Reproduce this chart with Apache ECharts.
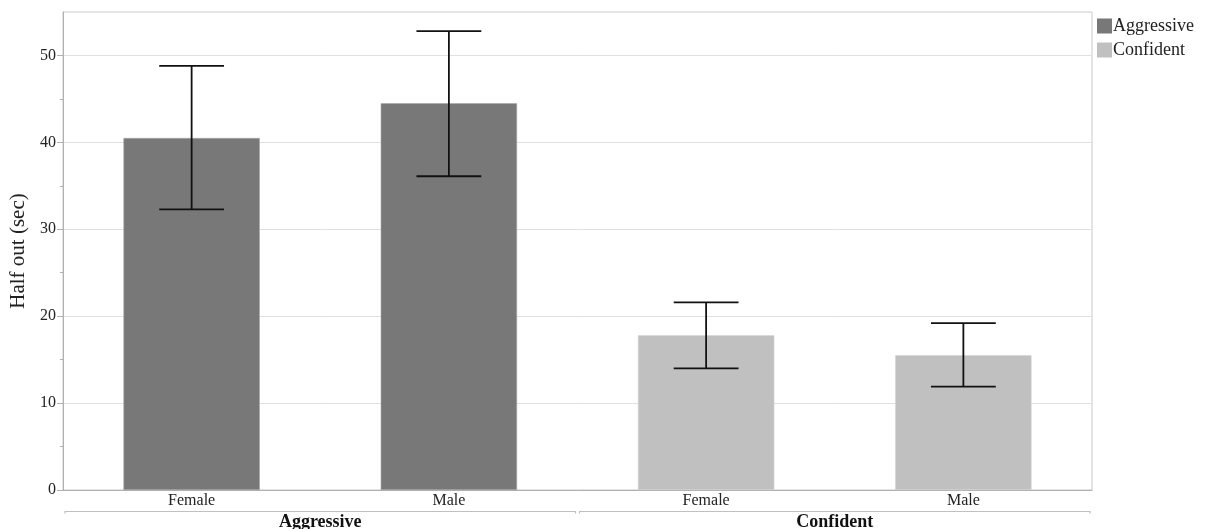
<!DOCTYPE html>
<html>
<head>
<meta charset="utf-8">
<script src="https://cdn.jsdelivr.net/npm/echarts@6/dist/echarts.min.js"></script>
<style>
  html, body { margin: 0; padding: 0; background: #fff; }
  #chart { width: 1205px; height: 529px; }
</style>
</head>
<body>
<div id="chart"></div>
<script>
// Half-out times by temperament and sex, mean with error bars
const categories = ['Female', 'Male', 'Female', 'Male'];
const groups = ['Aggressive', 'Confident'];
const aggressiveMeans = [40.5, 44.5, '-', '-'];
const confidentMeans = ['-', '-', 17.8, 15.5];
const errLow = [32.3, 36.1, 14.0, 11.9];
const errHigh = [48.8, 52.8, 21.6, 19.2];
const yTicks = [0, 10, 20, 30, 40, 50];

const FONT = '"Liberation Serif", "DejaVu Serif", serif';
const chart = echarts.init(document.getElementById('chart'));

const errData = categories.map((c, i) => [i, errLow[i], errHigh[i]]);

chart.setOption({
  animation: false,
  grid: {
    left: 63, right: 113, top: 12, bottom: 39,
    containLabel: false, outerBoundsMode: 'none',
    show: true, borderColor: '#c8c8c8', borderWidth: 1
  },
  legend: {
    orient: 'vertical', left: 1092, top: 12, padding: 5,
    itemWidth: 15, itemHeight: 15, itemGap: 6, icon: 'rect',
    itemStyle: { borderWidth: 0 },
    textStyle: { fontFamily: FONT, fontSize: 18, lineHeight: 15, color: '#222', padding: [0, 0, 0, -4] },
    data: groups
  },
  xAxis: [{
    type: 'category', data: categories, position: 'bottom',
    axisLine: { lineStyle: { color: '#b0b0b0' } },
    axisTick: { show: false },
    axisLabel: { fontFamily: FONT, fontSize: 16, color: '#222', margin: 3 },
    splitLine: { show: false }
  }, {
    type: 'category', data: groups, position: 'bottom', offset: 19,
    axisLine: { show: false }, axisTick: { show: false },
    axisLabel: { fontFamily: FONT, fontSize: 18, fontWeight: 'bold', color: '#111', margin: 4 },
    splitLine: { show: false }
  }],
  yAxis: {
    type: 'value', min: 0, max: 55, interval: 10,
    name: 'Half out (sec)', nameLocation: 'middle', nameGap: 33,
    nameTextStyle: { fontFamily: FONT, fontSize: 21, color: '#222' },
    axisLine: { show: true, lineStyle: { color: '#b0b0b0' } },
    axisTick: { show: true, length: 6, customValues: yTicks, lineStyle: { color: '#b0b0b0' } },
    minorTick: { show: true, splitNumber: 2, length: 3, lineStyle: { color: '#b0b0b0' } },
    axisLabel: {
      fontFamily: FONT, fontSize: 16, color: '#222', margin: 7,
      customValues: yTicks
    },
    splitLine: { lineStyle: { color: '#e0e0e0' } }
  },
  series: [{
    name: 'Aggressive', type: 'bar', stack: 'g', barWidth: '53%',
    itemStyle: { color: '#787878', borderColor: '#a8a8a8', borderWidth: 0.6 },
    data: aggressiveMeans
  }, {
    name: 'Confident', type: 'bar', stack: 'g', barWidth: '53%',
    itemStyle: { color: '#c0c0c0', borderColor: '#d4d4d4', borderWidth: 0.6 },
    data: confidentMeans
  }, {
    name: 'err', type: 'custom', z: 10,
    data: errData,
    encode: { x: 0, y: [1, 2] },
    renderItem: function (params, api) {
      const lo = api.coord([api.value(0), api.value(1)]);
      const hi = api.coord([api.value(0), api.value(2)]);
      const half = api.size([1, 0])[0] * 0.126;
      const st = { stroke: '#111', lineWidth: 1.8 };
      return {
        type: 'group',
        children: [
          { type: 'line', shape: { x1: lo[0], y1: lo[1], x2: hi[0], y2: hi[1] }, style: st },
          { type: 'line', shape: { x1: hi[0] - half, y1: hi[1], x2: hi[0] + half, y2: hi[1] }, style: st },
          { type: 'line', shape: { x1: lo[0] - half, y1: lo[1], x2: lo[0] + half, y2: lo[1] }, style: st }
        ]
      };
    }
  }]
});

// Separator lines under each group of category labels
function drawGroupLines() {
  const c0 = chart.convertToPixel({ xAxisIndex: 0 }, 0);
  const c1 = chart.convertToPixel({ xAxisIndex: 0 }, 1);
  const band = c1 - c0;
  const y0 = chart.convertToPixel({ yAxisIndex: 0 }, 0);
  const lineY = Math.round(y0 + 21) + 0.5;
  const elems = groups.map((g, gi) => {
    const left = chart.convertToPixel({ xAxisIndex: 0 }, gi * 2) - band / 2;
    const right = chart.convertToPixel({ xAxisIndex: 0 }, gi * 2 + 1) + band / 2;
    return {
      type: 'polyline',
      shape: { points: [[left + 2, lineY + 2], [left + 2, lineY], [right - 2, lineY], [right - 2, lineY + 2]] },
      style: { stroke: '#c0c0c0', lineWidth: 1.2, fill: null }
    };
  });
  chart.setOption({ graphic: elems });
}
drawGroupLines();
</script>
</body>
</html>
